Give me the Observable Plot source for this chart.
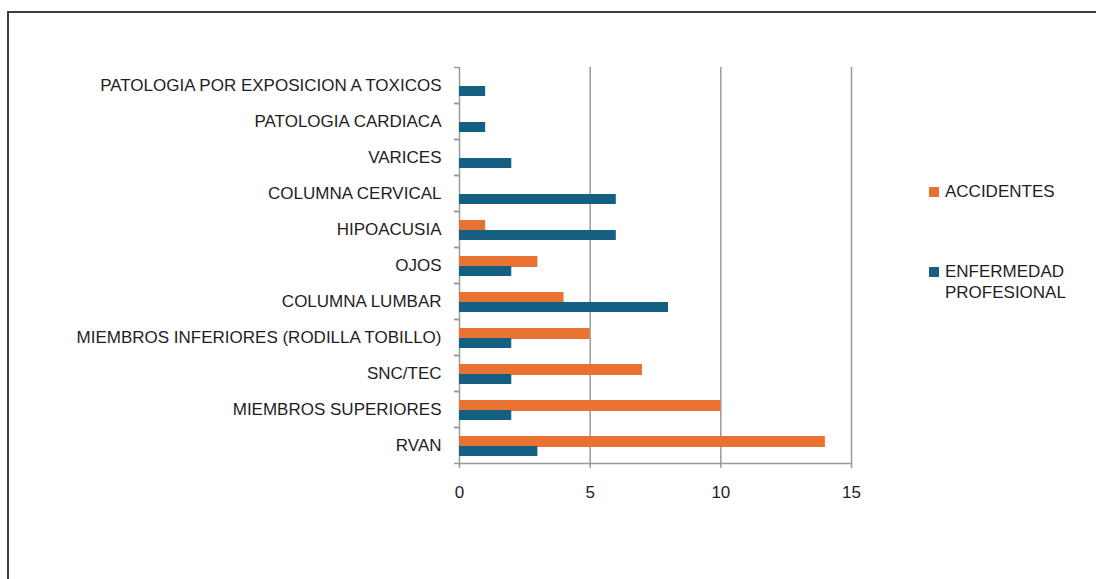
<!DOCTYPE html>
<html>
<head>
<meta charset="utf-8">
<script src="https://cdn.jsdelivr.net/npm/d3@7"></script>
<script src="https://cdn.jsdelivr.net/npm/@observablehq/plot@0.6"></script>
<style>
  body { margin: 0; background: #ffffff; }
  #wrap { position: relative; width: 1096px; height: 579px; overflow: hidden; background: #ffffff; }
  #frame { position: absolute; left: 7px; top: 11px; width: 1300px; height: 800px;
           border-top: 2px solid #3c3c3c; border-left: 2px solid #3c3c3c; }
  #chart { position: absolute; left: 0; top: 0; }
  #legend { position: absolute; left: 0; top: 0; font-family: "Liberation Sans", Arial, sans-serif;
            font-size: 17px; color: #1e1e1e; }
  .sw { position: absolute; width: 10px; height: 10px; }
  .lt { position: absolute; line-height: 21px; white-space: nowrap; }
</style>
</head>
<body>
<div id="wrap">
  <div id="frame"></div>
  <div id="chart"></div>
  <div id="legend"></div>
</div>
<script>
// Data (top to bottom as shown)
const categories = [
  "PATOLOGIA POR EXPOSICION A TOXICOS",
  "PATOLOGIA CARDIACA",
  "VARICES",
  "COLUMNA CERVICAL",
  "HIPOACUSIA",
  "OJOS",
  "COLUMNA LUMBAR",
  "MIEMBROS INFERIORES (RODILLA TOBILLO)",
  "SNC/TEC",
  "MIEMBROS SUPERIORES",
  "RVAN"
];
const accidentes = [0, 0, 0, 0, 1, 3, 4, 5, 7, 10, 14];
const enfermedad = [1, 1, 2, 6, 6, 2, 8, 2, 2, 2, 3];
const seriesNames = ["ACCIDENTES", "ENFERMEDAD PROFESIONAL"];
const seriesColors = ["#E97132", "#156082"];
const xTicks = [0, 5, 10, 15];

const rowsA = categories.map((c, i) => ({categoria: c, valor: accidentes[i]}));
const rowsE = categories.map((c, i) => ({categoria: c, valor: enfermedad[i]}));

const W = 1096, H = 579;
const mTop = 67, mBottom = 116, mLeft = 459, mRight = 245;
const step = (H - mTop - mBottom) / categories.length;
const gridColor = "#9a9a9a";
const font = '"Liberation Sans", Arial, sans-serif';

const chart = Plot.plot({
  width: W,
  height: H,
  marginTop: mTop,
  marginBottom: mBottom,
  marginLeft: mLeft,
  marginRight: mRight,
  style: {fontFamily: font, fontSize: "17px", color: "#1e1e1e", background: "transparent", overflow: "visible"},
  x: {domain: [0, 15]},
  y: {domain: categories, padding: 0},
  marks: [
    Plot.ruleX(xTicks.slice(1), {stroke: gridColor, strokeWidth: 1.5}),
    Plot.ruleX([0], {stroke: gridColor, strokeWidth: 1.5}),
    Plot.frame({anchor: "bottom", stroke: gridColor, strokeWidth: 1.5}),
    Plot.axisX({ticks: xTicks, tickSize: 5, tickPadding: 17, stroke: gridColor, strokeWidth: 1.5, label: null, fill: "#1e1e1e"}),
    Plot.axisY({tickSize: 0, tickPadding: 18, label: null, fill: "#1e1e1e"}),
    Plot.axisY({tickSize: 5, tickFormat: null, dy: -step / 2, stroke: gridColor, strokeWidth: 1.5, label: null}),
    Plot.axisY({tickSize: 5, tickFormat: null, dy: step / 2, stroke: gridColor, strokeWidth: 1.5, label: null}),
    Plot.barX(rowsA, {x: "valor", y: "categoria", fill: seriesColors[0], insetTop: 9, insetBottom: 16}),
    Plot.barX(rowsE, {x: "valor", y: "categoria", fill: seriesColors[1], insetTop: 19, insetBottom: 7})
  ]
});
document.getElementById("chart").appendChild(chart);

// Legend
const legend = document.getElementById("legend");
const legendItems = [
  {lines: [seriesNames[0]], top: 181, color: seriesColors[0]},
  {lines: ["ENFERMEDAD", "PROFESIONAL"], top: 261, color: seriesColors[1]}
];
legendItems.forEach(item => {
  const sw = document.createElement("div");
  sw.className = "sw";
  sw.style.left = "929px";
  sw.style.top = (item.top + 6) + "px";
  sw.style.background = item.color;
  legend.appendChild(sw);
  const t = document.createElement("div");
  t.className = "lt";
  t.style.left = "945px";
  t.style.top = item.top + "px";
  t.innerHTML = item.lines.join("<br>");
  legend.appendChild(t);
});
</script>
</body>
</html>
